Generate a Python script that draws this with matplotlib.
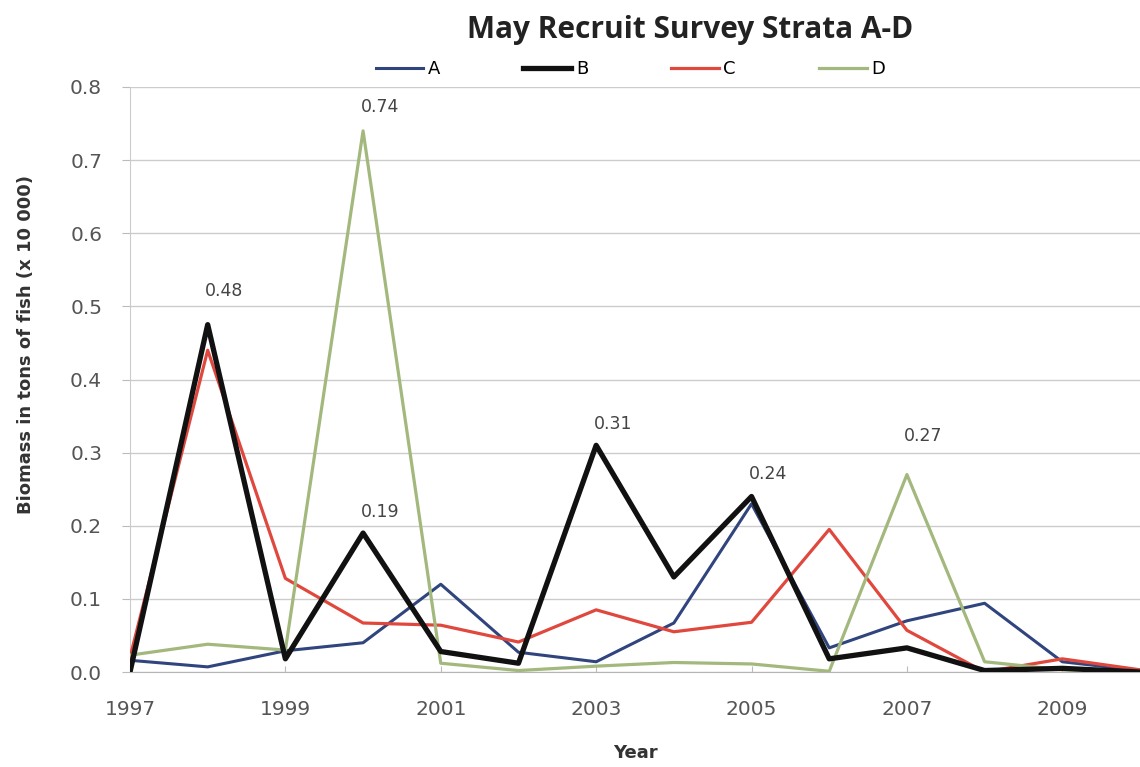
import matplotlib
matplotlib.use("Agg")
import matplotlib.pyplot as plt
from matplotlib.ticker import FixedLocator, MultipleLocator, FormatStrFormatter

years = [1997, 1998, 1999, 2000, 2001, 2002, 2003, 2004, 2005, 2006, 2007, 2008, 2009, 2010]
tick_years = [1997, 1999, 2001, 2003, 2005, 2007, 2009]
stratum_a = [0.016, 0.007, 0.029, 0.040, 0.120, 0.027, 0.014, 0.067, 0.230, 0.033, 0.070, 0.094, 0.014, 0.002]
stratum_b = [0.000, 0.475, 0.018, 0.190, 0.028, 0.012, 0.310, 0.130, 0.240, 0.018, 0.033, 0.002, 0.005, 0.000]
stratum_c = [0.020, 0.440, 0.128, 0.067, 0.064, 0.041, 0.085, 0.055, 0.068, 0.195, 0.057, 0.000, 0.018, 0.003]
stratum_d = [0.023, 0.038, 0.030, 0.740, 0.012, 0.002, 0.008, 0.013, 0.011, 0.001, 0.270, 0.014, 0.003, 0.001]

# annotated peaks
ann_years = [1998, 2000, 2000, 2003, 2005, 2007]
ann_values = [0.475, 0.740, 0.190, 0.310, 0.240, 0.270]
ann_labels = ["0.48", "0.74", "0.19", "0.31", "0.24", "0.27"]
# label offsets above the point (style only)
ann_offsets = [18, 11, 9, 9, 10, 21]

fig = plt.figure(figsize=(11.4, 7.67), dpi=100)
ax = fig.add_axes([130/1140, 1-672/767, 1-130/1140, (672-87)/767])

ax.plot(years, stratum_a, color="#30447e", lw=2.2, label="A", zorder=3)
ax.plot(years, stratum_b, color="#111111", lw=3.8, label="B", zorder=4)
ax.plot(years, stratum_c, color="#e0483e", lw=2.3, label="C", zorder=3)
ax.plot(years, stratum_d, color="#a3b87c", lw=2.3, label="D", zorder=3)

for x, v, t, o in zip(ann_years, ann_values, ann_labels, ann_offsets):
    ax.annotate(t, (x, v), xytext=(12, o), textcoords="offset points",
                ha="center", va="bottom", fontsize=12.5, color="#444444")

ax.set_xlim(1997, 2010)
ax.set_ylim(0, 0.8)
ax.xaxis.set_major_locator(FixedLocator(tick_years))
ax.xaxis.set_major_formatter(FormatStrFormatter("%d"))
ax.yaxis.set_major_locator(MultipleLocator(0.1))
ax.yaxis.set_major_formatter(FormatStrFormatter("%.1f"))
ax.grid(axis="y", color="#cccccc", lw=1.0)
ax.set_axisbelow(True)
for s in ["top", "right"]:
    ax.spines[s].set_visible(False)
ax.spines["left"].set_color("#cccccc")
ax.spines["bottom"].set_color("#b5b5b5")
ax.tick_params(axis="both", labelsize=14.5, colors="#bbbbbb", labelcolor="#555555")
ax.tick_params(axis="x", length=4, direction="in", pad=20)
ax.tick_params(axis="y", length=6, direction="out", pad=14)

ax.set_xlabel("Year", fontsize=13, color="#333333", fontweight="semibold", labelpad=18)
ax.set_ylabel("Biomass in tons of fish (x 10 000)", fontsize=13, color="#333333",
              fontweight="bold")
ax.yaxis.set_label_coords(-95/1010, 0.56)

fig.text(0.605, 0.961, "May Recruit Survey Strata A-D", ha="center", va="center",
         fontsize=21.5, fontweight="bold", family="Open Sans", color="#222222")
fig.legend(loc="center", bbox_to_anchor=(0.553, 0.910), ncol=4, frameon=False,
           fontsize=13, handlelength=2.65, handletextpad=0.25, columnspacing=4.6)

fig.savefig("out.png", dpi=100)
